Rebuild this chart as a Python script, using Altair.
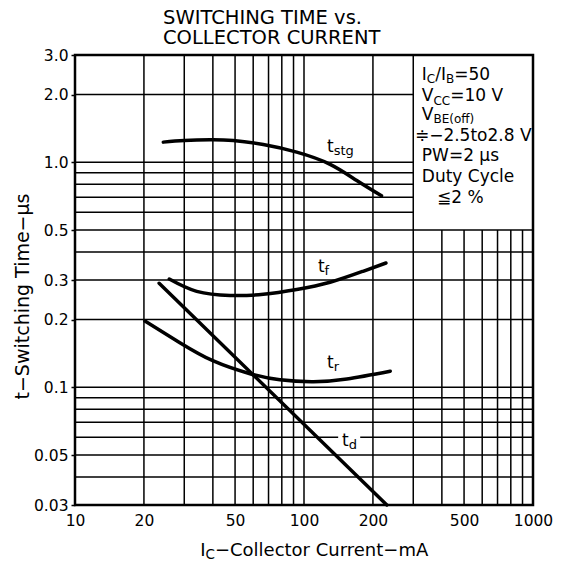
import altair as alt
import pandas as pd

FONT = "DejaVu Sans"
W, H = 458, 450
PX_X = W / 2.0   # pixels per decade on x (10..1000)
PX_Y = H / 2.0   # pixels per decade on y (0.03..3)

# ---------------- data ----------------
stg_ic = [24.3, 30.0, 38.9, 49.1, 66.4, 92.9, 130, 170, 218]
stg_t = [1.23, 1.25, 1.26, 1.25, 1.20, 1.11, 0.98, 0.83, 0.71]
f_ic = [25.8, 34.0, 47.5, 66.4, 92.9, 130, 181, 228]
f_t = [0.303, 0.267, 0.256, 0.259, 0.272, 0.293, 0.328, 0.357]
r_ic = [20.2, 28.7, 40.2, 58.1, 78.5, 110, 154, 238]
r_t = [0.197, 0.158, 0.131, 0.115, 0.108, 0.106, 0.109, 0.118]
d_ic = [23.3, 230]
d_t = [0.29, 0.03]

x_ticks = [10, 20, 50, 100, 200, 500, 1000]
y_ticks = [0.03, 0.05, 0.1, 0.2, 0.3, 0.5, 1.0, 2.0, 3.0]
x_grid = [20, 30, 40, 50, 60, 70, 80, 90, 100, 200, 300, 400, 500, 600, 700, 800, 900]
y_grid = [0.04, 0.05, 0.06, 0.07, 0.08, 0.09, 0.1, 0.2, 0.3, 0.4, 0.5, 0.6, 0.7, 0.8, 0.9, 1.0, 2.0]
box_x, box_y = 300, 0.5          # lower-left corner of the conditions box

# curve labels: anchor x, anchor y (baseline), subscript
curve_label_x = [126, 115, 126, 146.5]
curve_label_y = [1.11, 0.327, 0.122, 0.0546]
curve_label_sub = ["stg", "f", "r", "d"]
td_mask_x = [141, 176]
td_mask_y = [0.0525, 0.066]

# conditions box text (anchor x, baseline y, fragments (text, is_subscript))
box_anchor_x = [327, 327, 327, 305, 327, 327, 381]
box_anchor_y = [2.33, 1.87, 1.55, 1.25, 1.01, 0.82, 0.66]
box_lines = [
    [("I", 0), ("C", 1), ("/", 0), ("I", 0), ("B", 1), ("=50", 0)],
    [("V", 0), ("CC", 1), ("=10 V", 0)],
    [("V", 0), ("BE(off)", 1)],
    [("≑−2.5to2.8 V", 0)],
    [("PW=2 μs", 0)],
    [("Duty Cycle", 0)],
    [("≦2 %", 0)],
]
xtitle_anchor = (35.2, 0.0178)
xtitle_frags = [("I", 0), ("C", 1), ("−Collector Current−mA", 0)]

# ---------------- helpers ----------------
CW = {' ': 0.318, '%': 0.950, '(': 0.390, ')': 0.390, '.': 0.318, '/': 0.337, '=': 0.838,
      'A': 0.684, 'B': 0.686, 'C': 0.698, 'D': 0.770, 'E': 0.632, 'I': 0.295, 'P': 0.603,
      'V': 0.684, 'W': 0.989, 'c': 0.550, 'd': 0.635, 'e': 0.615, 'f': 0.352, 'g': 0.635,
      'l': 0.278, 'm': 0.974, 'n': 0.634, 'o': 0.612, 'r': 0.411, 's': 0.521, 't': 0.392,
      'u': 0.634, 'y': 0.592, 'μ': 0.636, '−': 0.838, '≑': 0.838, '≦': 0.838}


def text_width(s, size):
    return sum(CW.get(ch, 0.636) for ch in s) * size


rows = []


def add_frags(ax, ay, frags, size, sub_size, sub_dy):
    off = 0.0
    for txt, sub in frags:
        sz = sub_size if sub else size
        dy = sub_dy if sub else 0.0
        rows.append({"x": ax * 10 ** (off / PX_X), "y": ay * 10 ** (-dy / PX_Y),
                     "text": txt, "size": sz})
        off += text_width(txt, sz)


for ax, ay, frags in zip(box_anchor_x, box_anchor_y, box_lines):
    add_frags(ax, ay, frags, 17, 12, 3.5)
for ax, ay, sub in zip(curve_label_x, curve_label_y, curve_label_sub):
    add_frags(ax, ay, [("t", 0), (sub, 1)], 17, 13, 3)
add_frags(xtitle_anchor[0], xtitle_anchor[1], xtitle_frags, 18, 13.5, 3)
texts = pd.DataFrame(rows)

curves = pd.concat([
    pd.DataFrame({"ic": stg_ic, "t": stg_t, "series": "tstg"}),
    pd.DataFrame({"ic": f_ic, "t": f_t, "series": "tf"}),
    pd.DataFrame({"ic": r_ic, "t": r_t, "series": "tr"}),
    pd.DataFrame({"ic": d_ic, "t": d_t, "series": "td"}),
])

vgrid = pd.DataFrame({"x": x_grid, "y0": 0.03,
                      "y1": [3.0 if v <= box_x else box_y for v in x_grid]})
hgrid = pd.DataFrame({"y": y_grid, "x0": 10,
                      "x1": [box_x if v > box_y else 1000 for v in y_grid]})
mask = pd.DataFrame({"x0": [td_mask_x[0]], "x1": [td_mask_x[1]],
                     "y0": [td_mask_y[0]], "y1": [td_mask_y[1]]})

XS = alt.Scale(type="log", domain=[10, 1000], nice=False)
YS = alt.Scale(type="log", domain=[0.03, 3.0], nice=False)
XA = alt.Axis(values=x_ticks, format="d", title=None, grid=False, ticks=False, tickSize=0,
              domain=False, labelFont=FONT, labelFontSize=15.5, labelColor="black",
              labelPadding=8, labelFlush=False, labelOverlap=False, labelBound=False)
YA = alt.Axis(values=y_ticks,
              labelExpr="datum.value >= 1 ? format(datum.value, '.1f') : format(datum.value, '~g')",
              title="t−Switching Time−μs", titleFont=FONT, titleFontSize=19,
              titleFontWeight="normal", titleColor="black", titleX=-47, titleY=241,
              titleAngle=270, titleAlign="center", titleBaseline="alphabetic",
              grid=False, domain=False, ticks=True, tickSize=4, tickWidth=1.5,
              tickColor="black", labelFont=FONT, labelFontSize=15.5, labelColor="black",
              labelPadding=3, labelFlush=False, labelOverlap=False)

vg = alt.Chart(vgrid).mark_rule(color="black", strokeWidth=1.5).encode(
    x=alt.X("x:Q", scale=XS, axis=XA), y=alt.Y("y0:Q", scale=YS, axis=YA), y2="y1:Q")
hg = alt.Chart(hgrid).mark_rule(color="black", strokeWidth=1.5).encode(
    y=alt.Y("y:Q", scale=YS, axis=YA), x=alt.X("x0:Q", scale=XS, axis=XA), x2="x1:Q")
mk = alt.Chart(mask).mark_rect(color="white").encode(
    x=alt.X("x0:Q", scale=XS, axis=XA), x2="x1:Q",
    y=alt.Y("y0:Q", scale=YS, axis=YA), y2="y1:Q")
ln = alt.Chart(curves).mark_line(color="black", strokeWidth=3.5, interpolate="natural",
                                 strokeCap="round").encode(
    x=alt.X("ic:Q", scale=XS, axis=XA), y=alt.Y("t:Q", scale=YS, axis=YA),
    detail="series:N")
tx = alt.Chart(texts).mark_text(align="left", baseline="alphabetic", font=FONT,
                                color="black").encode(
    x=alt.X("x:Q", scale=XS, axis=XA), y=alt.Y("y:Q", scale=YS, axis=YA),
    text="text:N", size=alt.Size("size:Q", scale=None))

chart = alt.layer(vg, hg, mk, ln, tx).properties(
    width=W, height=H,
    title=alt.TitleParams(["SWITCHING TIME vs.", "COLLECTOR CURRENT"], anchor="start",
                          frame="group", dx=88, dy=27, offset=8, fontSize=19.5, font=FONT,
                          fontWeight="normal", color="black", lineHeight=20,
                          baseline="bottom"),
    padding={"left": 67, "top": 47, "right": 20, "bottom": 56},
    autosize=alt.AutoSizeParams(type="none"),
    background="white",
).configure_view(stroke="black", strokeWidth=2.5)

chart.save("out.html", embed_options={"renderer": "svg", "actions": False})
